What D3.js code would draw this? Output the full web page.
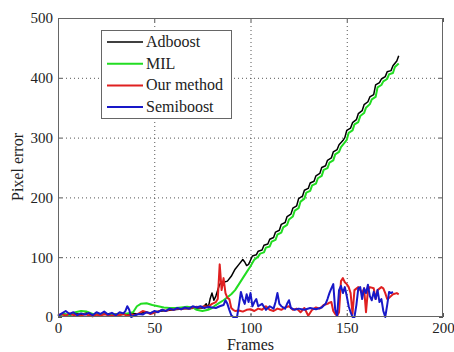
<!DOCTYPE html>
<html>
<head>
<meta charset="utf-8">
<script src="https://cdn.jsdelivr.net/npm/d3@7"></script>
<style>
  body { margin: 0; background: #fff; }
  svg text { font-family: "Liberation Serif", "Times New Roman", "DejaVu Serif", serif !important; }
</style>
</head>
<body>
<div id="chart"></div>
<script>
// axis ticks
const xTicks = [0, 50, 100, 150, 200];
const yTicks = [0, 100, 200, 300, 400, 500];

// Adboost
const adboostFrames = [0, 3, 6, 9, 12, 15, 18, 21, 24, 27, 30, 33, 36, 39, 42, 45, 48, 51, 54, 57, 60, 63, 66, 69, 72, 75, 77, 78, 79, 80, 81, 82, 83, 84, 86, 88, 90, 92, 94, 96, 97, 98, 99,
  100, 101, 103, 104, 106, 107, 109, 110, 112, 113, 115, 116, 118, 119, 121, 122, 124, 125, 127, 128, 130, 131, 133, 134, 136, 137, 139, 140, 142, 143, 145, 146, 148, 149,
  150, 152, 153, 155, 156, 158, 159, 161, 162, 164, 165, 167, 168, 170, 171, 173, 174, 176, 177];
const adboostError = [2, 5, 3, 6, 4, 7, 3, 5, 4, 6, 3, 5, 4, 6, 5, 8, 7, 9, 10, 11, 12, 13, 14, 14, 15, 15, 22, 15, 30, 40, 28, 35, 45, 55, 58, 60, 68, 80, 88, 96, 92, 86, 88,
  95, 102, 104, 110, 112, 120, 122, 130, 133, 142, 145, 155, 158, 168, 172, 182, 186, 198, 202, 212, 215, 224, 227, 236, 240, 250, 253, 262, 266, 276, 280, 288, 295, 300,
  312, 316, 325, 330, 340, 345, 355, 360, 368, 372, 388, 392, 398, 402, 410, 412, 420, 428, 437];

// MIL
const milFrames = [0, 3, 6, 9, 12, 15, 18, 21, 24, 27, 30, 33, 36, 39, 41, 43, 46, 49, 52, 55, 58, 61, 64, 67, 70, 72, 75, 78, 80, 82, 84, 86, 88, 90, 92, 94, 96, 98, 100, 102, 104,
  105, 107, 108, 110, 111, 113, 114, 116, 117, 119, 120, 122, 123, 125, 126, 128, 129, 131, 132, 134, 135, 137, 138, 140, 141, 143, 144, 146, 147, 149,
  150, 151, 153, 154, 156, 157, 159, 160, 162, 163, 165, 166, 168, 169, 171, 172, 174, 175, 177];
const milError = [2, 5, 3, 8, 10, 9, 5, 4, 6, 3, 5, 4, 6, 8, 18, 22, 23, 20, 18, 16, 15, 15, 16, 17, 16, 12, 10, 12, 15, 20, 24, 28, 33, 38, 45, 55, 65, 75, 85, 96, 101,
  106, 108, 116, 118, 126, 129, 138, 141, 150, 154, 163, 168, 178, 182, 193, 198, 208, 211, 220, 223, 232, 236, 246, 249, 258, 262, 272, 276, 284, 292,
  296, 308, 312, 322, 326, 336, 341, 350, 356, 364, 368, 384, 388, 394, 398, 406, 408, 418, 424, 436];

// Our method
const oursFrames = [0, 2, 4, 6, 8, 10, 12, 14, 16, 18, 20, 22, 24, 26, 28, 30, 32, 34, 36, 38, 40, 42, 44, 46, 48, 50, 52, 54, 56, 58, 60, 62, 64, 66, 68, 70, 72, 74, 76, 78,
  80, 82, 83, 84, 85, 86, 87, 88, 89, 90, 91, 92, 94, 96, 98, 100, 102, 104, 106, 108, 110, 112, 114, 116, 118, 120, 122, 124, 126, 128, 130, 132, 134, 136, 138,
  140, 141, 142, 143, 144, 145, 146, 147, 148, 149, 150, 151, 152, 153, 154, 156, 158, 159, 160, 161, 162, 164, 165, 166, 168, 169, 170, 171, 172, 174, 176, 177];
const oursError = [3, 5, 2, 6, 3, 4, 2, 5, 3, 1, 4, 2, 5, 3, 2, 4, 3, 5, 2, 4, 3, 6, 10, 8, 5, 7, 9, 12, 10, 13, 12, 14, 13, 15, 14, 16, 17, 16, 18, 17,
  22, 25, 30, 88, 45, 65, 40, 32, 30, 15, 12, 10, 11, 9, 12, 13, 10, 14, 12, 18, 12, 10, 14, 12, 16, 18, 12, 14, 8, 15, 2, 12, 16, 14, 20,
  22, 24, 25, 10, 5, 2, 8, 60, 65, 58, 55, 50, 40, 5, 45, 50, 40, 48, 8, 45, 50, 48, 30, 45, 50, 48, 40, 30, 32, 38, 40, 38];

// Semiboost
const semiFrames = [0, 2, 4, 6, 8, 10, 12, 14, 16, 18, 20, 22, 24, 26, 28, 30, 32, 34, 35, 36, 37, 38, 40, 42, 44, 46, 48, 50, 52, 54, 56, 58, 60, 62, 64, 66, 68, 70, 72, 74, 76, 78,
  80, 82, 84, 86, 87, 88, 89, 90, 91, 93, 94, 95, 96, 97, 98, 99, 100, 101, 102, 103, 104, 106, 108, 110, 112, 113, 114, 115, 116, 118, 119, 120, 121, 123,
  125, 128, 131, 134, 137, 139, 140, 141, 142, 143, 144, 145, 146, 147, 148, 149, 150, 151, 152, 153, 154, 155, 156, 157, 158, 159, 160, 161, 162, 163, 164,
  165, 166, 167, 168, 169, 170, 171, 172, 173, 174];
const semiError = [2, 6, 10, 5, 8, 3, 6, 4, 7, 3, 8, 5, 9, 4, 7, 3, 8, 6, 10, 18, 12, 0, 3, 5, 4, 8, 6, 10, 8, 12, 10, 14, 12, 15, 13, 16, 14, 18, 16, 18, 15, 17,
  16, 15, 18, 20, 28, 22, 12, 3, 0, 0, 20, 42, 30, 22, 38, 25, 40, 18, 25, 30, 18, 22, 12, 18, 14, 25, 40, 22, 18, 14, 22, 28, 15, 12,
  14, 12, 15, 13, 16, 22, 30, 40, 48, 55, 12, 2, 45, 52, 40, 50, 35, 18, 8, 0, 0, 20, 48, 50, 30, 48, 40, 54, 35, 28, 42,
  30, 45, 25, 30, 10, 0, 20, 42, 40, 42];

const seriesNames = ["Adboost", "MIL", "Our method", "Semiboost"];
const seriesColors = ["#000000", "#22dd22", "#e02020", "#1818c8"];

function drawChart() {
  const width = 454;
  const height = 352;
  const left = 58, right = 443, top = 18, bottom = 317;

  const series = [
    { name: seriesNames[0], color: seriesColors[0], w: 1.5, pts: adboostFrames.map((f, i) => [f, adboostError[i]]) },
    { name: seriesNames[1], color: seriesColors[1], w: 2, pts: milFrames.map((f, i) => [f, milError[i]]) },
    { name: seriesNames[2], color: seriesColors[2], w: 2, pts: oursFrames.map((f, i) => [f, oursError[i]]) },
    { name: seriesNames[3], color: seriesColors[3], w: 2, pts: semiFrames.map((f, i) => [f, semiError[i]]) }
  ];

  const x = d3.scaleLinear().domain([0, 200]).range([left, right]);
  const y = d3.scaleLinear().domain([0, 500]).range([bottom, top]);

  const svg = d3.select("#chart")
    .append("svg")
    .attr("width", width)
    .attr("height", height);

  // grid
  const grid = svg.append("g")
    .attr("stroke", "#555")
    .attr("stroke-width", 1)
    .attr("stroke-dasharray", "1,3");
  grid.selectAll("line.gx")
    .data(xTicks.slice(1, -1))
    .join("line")
    .attr("x1", d => x(d) + 0.5).attr("x2", d => x(d) + 0.5)
    .attr("y1", top).attr("y2", bottom);
  grid.selectAll("line.gy")
    .data(yTicks.slice(1, -1))
    .join("line")
    .attr("x1", left).attr("x2", right)
    .attr("y1", d => y(d) + 0.5).attr("y2", d => y(d) + 0.5);

  // lines
  const line = d3.line().x(d => x(d[0])).y(d => y(d[1]));
  svg.append("g")
    .selectAll("path")
    .data(series)
    .join("path")
    .attr("fill", "none")
    .attr("stroke", d => d.color)
    .attr("stroke-width", d => d.w)
    .attr("stroke-linejoin", "round")
    .attr("d", d => line(d.pts));

  // axes (ticks point inward, like matlab)
  const xAxis = d3.axisBottom(x).tickValues(xTicks).tickSizeInner(-4).tickSizeOuter(0).tickPadding(5);
  const yAxis = d3.axisLeft(y).tickValues(yTicks).tickSizeInner(-4).tickSizeOuter(0).tickPadding(5);

  const gx = svg.append("g").attr("transform", `translate(0,${bottom})`).call(xAxis);
  const gy = svg.append("g").attr("transform", `translate(${left},0)`).call(yAxis);
  svg.append("g").attr("transform", `translate(0,${top})`)
    .call(d3.axisTop(x).tickValues(xTicks).tickSizeInner(-4).tickSizeOuter(0).tickFormat(""));
  svg.append("g").attr("transform", `translate(${right},0)`)
    .call(d3.axisRight(y).tickValues(yTicks).tickSizeInner(-4).tickSizeOuter(0).tickFormat(""));

  svg.selectAll(".domain").remove();
  svg.selectAll(".tick line").attr("stroke", "#555");
  [gx, gy].forEach(g => g.selectAll("text")
    .attr("font-size", 15)
    .attr("fill", "#222"));

  svg.append("rect")
    .attr("x", left + 0.5).attr("y", top + 0.5)
    .attr("width", right - left - 1).attr("height", bottom - top - 1)
    .attr("fill", "none")
    .attr("stroke", "#666");

  // axis labels
  svg.append("text")
    .attr("x", (left + right) / 2).attr("y", 350)
    .attr("text-anchor", "middle")
    .attr("font-size", 16)
    .attr("fill", "#222")
    .text("Frames");
  svg.append("text")
    .attr("transform", "translate(23,167) rotate(-90)")
    .attr("text-anchor", "middle")
    .attr("font-size", 16)
    .attr("fill", "#222")
    .text("Pixel error");

  // legend
  const legend = svg.append("g").attr("transform", "translate(101,30)");
  legend.append("rect")
    .attr("x", 0.5).attr("y", 0.5)
    .attr("width", 130).attr("height", 88)
    .attr("fill", "#fff")
    .attr("stroke", "#666");
  const rows = legend.selectAll("g.row")
    .data(series)
    .join("g")
    .attr("transform", (d, i) => `translate(0,${12 + i * 21.7})`);
  rows.append("line")
    .attr("x1", 6).attr("x2", 42)
    .attr("stroke", d => d.color)
    .attr("stroke-width", d => d.w);
  rows.append("text")
    .attr("x", 45).attr("y", 5)
    .attr("font-size", 16)
    .attr("fill", "#222")
    .text(d => d.name);
}

document.addEventListener('DOMContentLoaded', () => {
  drawChart();
});
</script>
</body>
</html>
